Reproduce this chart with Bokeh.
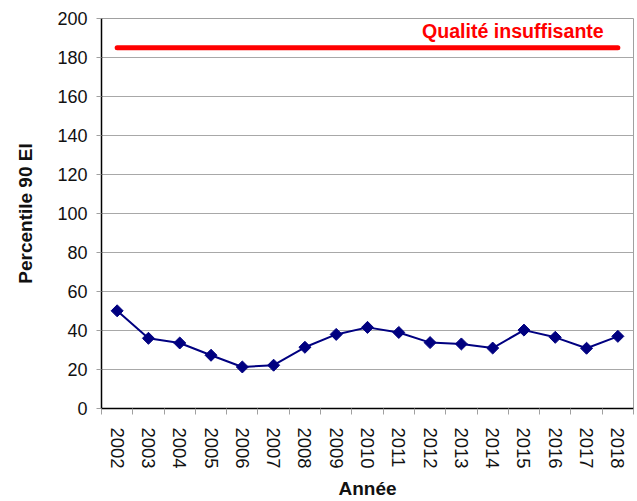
import math
from bokeh.plotting import figure
from bokeh.models import FixedTicker, Range1d, Label, ColumnDataSource
from bokeh.embed import file_html
from bokeh.resources import INLINE

years = ["2002", "2003", "2004", "2005", "2006", "2007", "2008", "2009", "2010",
         "2011", "2012", "2013", "2014", "2015", "2016", "2017", "2018"]
values = [50.1, 36.0, 33.6, 27.3, 21.3, 22.2, 31.4, 38.0, 41.6,
          39.0, 33.8, 33.1, 31.0, 40.2, 36.5, 30.9, 37.0]
threshold = 185
threshold_label = "Qualité insuffisante"
y_ticks = list(range(0, 201, 20))

n = len(years)
centers = [i + 0.5 for i in range(n)]
bounds = [float(i) for i in range(n + 1)]

p = figure(width=637, height=501, output_backend="svg", toolbar_location=None,
           x_range=Range1d(0, n), y_range=Range1d(0, 200),
           min_border_left=101, min_border_right=4, min_border_top=18, min_border_bottom=92)
p.background_fill_color = "white"
p.border_fill_color = "white"
p.outline_line_color = "#a0a0a0"
p.outline_line_width = 1

FONT = "Liberation Sans"

# x axis
xa = p.xaxis[0]
xa.ticker = FixedTicker(ticks=centers, minor_ticks=bounds)
xa.major_label_overrides = {c: y for c, y in zip(centers, years)}
xa.major_label_orientation = -math.pi / 2
xa.major_tick_line_color = None
xa.minor_tick_line_color = "#a0a0a0"
xa.minor_tick_out = 6
xa.minor_tick_in = 0
xa.axis_line_color = "black"
xa.axis_line_width = 1.5
xa.major_label_text_font = FONT
xa.major_label_text_font_size = "18.5px"
xa.major_label_text_color = "#111111"
xa.major_label_standoff = 13
xa.axis_label = "Année"
xa.axis_label_text_font = FONT
xa.axis_label_text_font_style = "bold"
xa.axis_label_text_font_size = "19px"
xa.axis_label_text_color = "#111111"
xa.axis_label_standoff = 6

# y axis
ya = p.yaxis[0]
ya.ticker = FixedTicker(ticks=y_ticks)
ya.major_tick_out = 5
ya.major_tick_in = 0
ya.major_tick_line_color = "#a0a0a0"
ya.minor_tick_line_color = None
ya.axis_line_color = "black"
ya.axis_line_width = 1.5
ya.major_label_text_font = FONT
ya.major_label_text_font_size = "18px"
ya.major_label_text_color = "#111111"
ya.major_label_standoff = 9
ya.axis_label = "Percentile 90 EI"
ya.axis_label_text_font = FONT
ya.axis_label_text_font_style = "bold"
ya.axis_label_text_font_size = "19px"
ya.axis_label_text_color = "#111111"
ya.axis_label_standoff = 18

p.xgrid.grid_line_color = None
p.ygrid.ticker = FixedTicker(ticks=y_ticks)
p.ygrid.grid_line_color = "#a8a8a8"
p.ygrid.grid_line_width = 1

# threshold line
p.line(x=[centers[0], centers[-1]], y=[threshold, threshold], line_color="#ff0000",
       line_width=5, line_cap="round")
p.add_layout(Label(x=centers[-1] - 0.45, y=threshold, y_offset=17, text=threshold_label,
                   text_align="right", text_baseline="middle", text_color="#ff0000",
                   text_font=FONT, text_font_style="bold", text_font_size="19.6px"))

src = ColumnDataSource(dict(x=centers, y=values))
p.line("x", "y", source=src, line_color="#000080", line_width=2)
p.scatter("x", "y", source=src, marker="square", angle=math.pi / 4, size=8.5,
          fill_color="#000080", line_color="#000080")

open("out.html", "w").write(file_html(p, INLINE))
